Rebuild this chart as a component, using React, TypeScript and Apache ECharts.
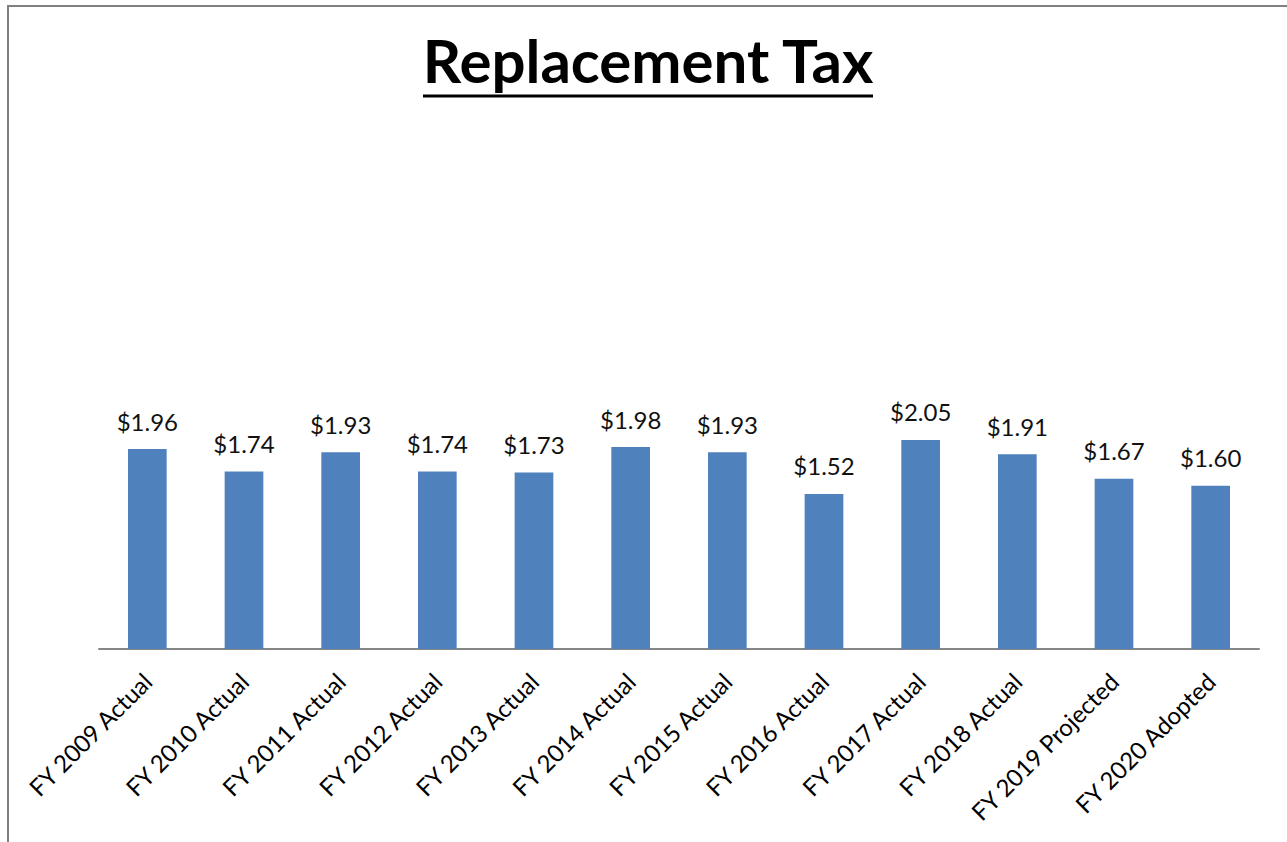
import React, { useEffect, useRef } from "react";
import * as echarts from "echarts";

const categories = [
  "FY 2009 Actual",
  "FY 2010 Actual",
  "FY 2011 Actual",
  "FY 2012 Actual",
  "FY 2013 Actual",
  "FY 2014 Actual",
  "FY 2015 Actual",
  "FY 2016 Actual",
  "FY 2017 Actual",
  "FY 2018 Actual",
  "FY 2019 Projected",
  "FY 2020 Adopted",
];
const values = [1.96, 1.74, 1.93, 1.74, 1.73, 1.98, 1.93, 1.52, 2.05, 1.91, 1.67, 1.6];
const titleText = "Replacement Tax";

export default function App() {
  const ref = useRef<HTMLDivElement>(null);
  useEffect(() => {
    const chart = echarts.init(ref.current!, null, { renderer: "svg" });
    const font = "Lato, 'Open Sans', sans-serif";
    chart.setOption({
      animation: false,
      backgroundColor: "#ffffff",
      graphic: [
        {
          type: "rect",
          shape: { x: 8, y: 6, width: 1400, height: 1000 },
          style: { fill: "none", stroke: "#808080", lineWidth: 2 },
          silent: true,
        },
        {
          type: "text",
          x: 648,
          y: 90,
          style: {
            text: titleText,
            font: `bold 60px ${font}`,
            fill: "#000",
            align: "center",
            verticalAlign: "bottom",
          },
        },
        {
          type: "line",
          shape: { x1: 423, y1: 96, x2: 873, y2: 96 },
          style: { stroke: "#000", lineWidth: 3 },
        },
      ],
      grid: { left: 99, right: 28, top: 241, bottom: 193 },
      xAxis: {
        type: "category",
        data: categories,
        axisLine: { show: true, lineStyle: { color: "#868686", width: 2 } },
        axisTick: { show: false },
        axisLabel: {
          interval: 0,
          rotate: 45,
          fontSize: 24,
          fontFamily: font,
          color: "#000",
          margin: 28,
        },
      },
      yAxis: {
        type: "value",
        min: 0,
        max: 4,
        show: false,
        splitLine: { show: false },
      },
      series: [
        {
          type: "bar",
          data: values,
          barWidth: "40%",
          itemStyle: { color: "#4F81BD" },
          label: {
            show: true,
            position: "top",
            distance: 16,
            fontSize: 24,
            fontFamily: font,
            color: "#111",
            formatter: (p: any) => "$" + Number(p.value).toFixed(2),
          },
        },
      ],
    });
    return () => chart.dispose();
  }, []);
  return (
    <div
      ref={ref}
      style={{ position: "fixed", left: 0, top: 0, width: 1287, height: 842 }}
    />
  );
}
